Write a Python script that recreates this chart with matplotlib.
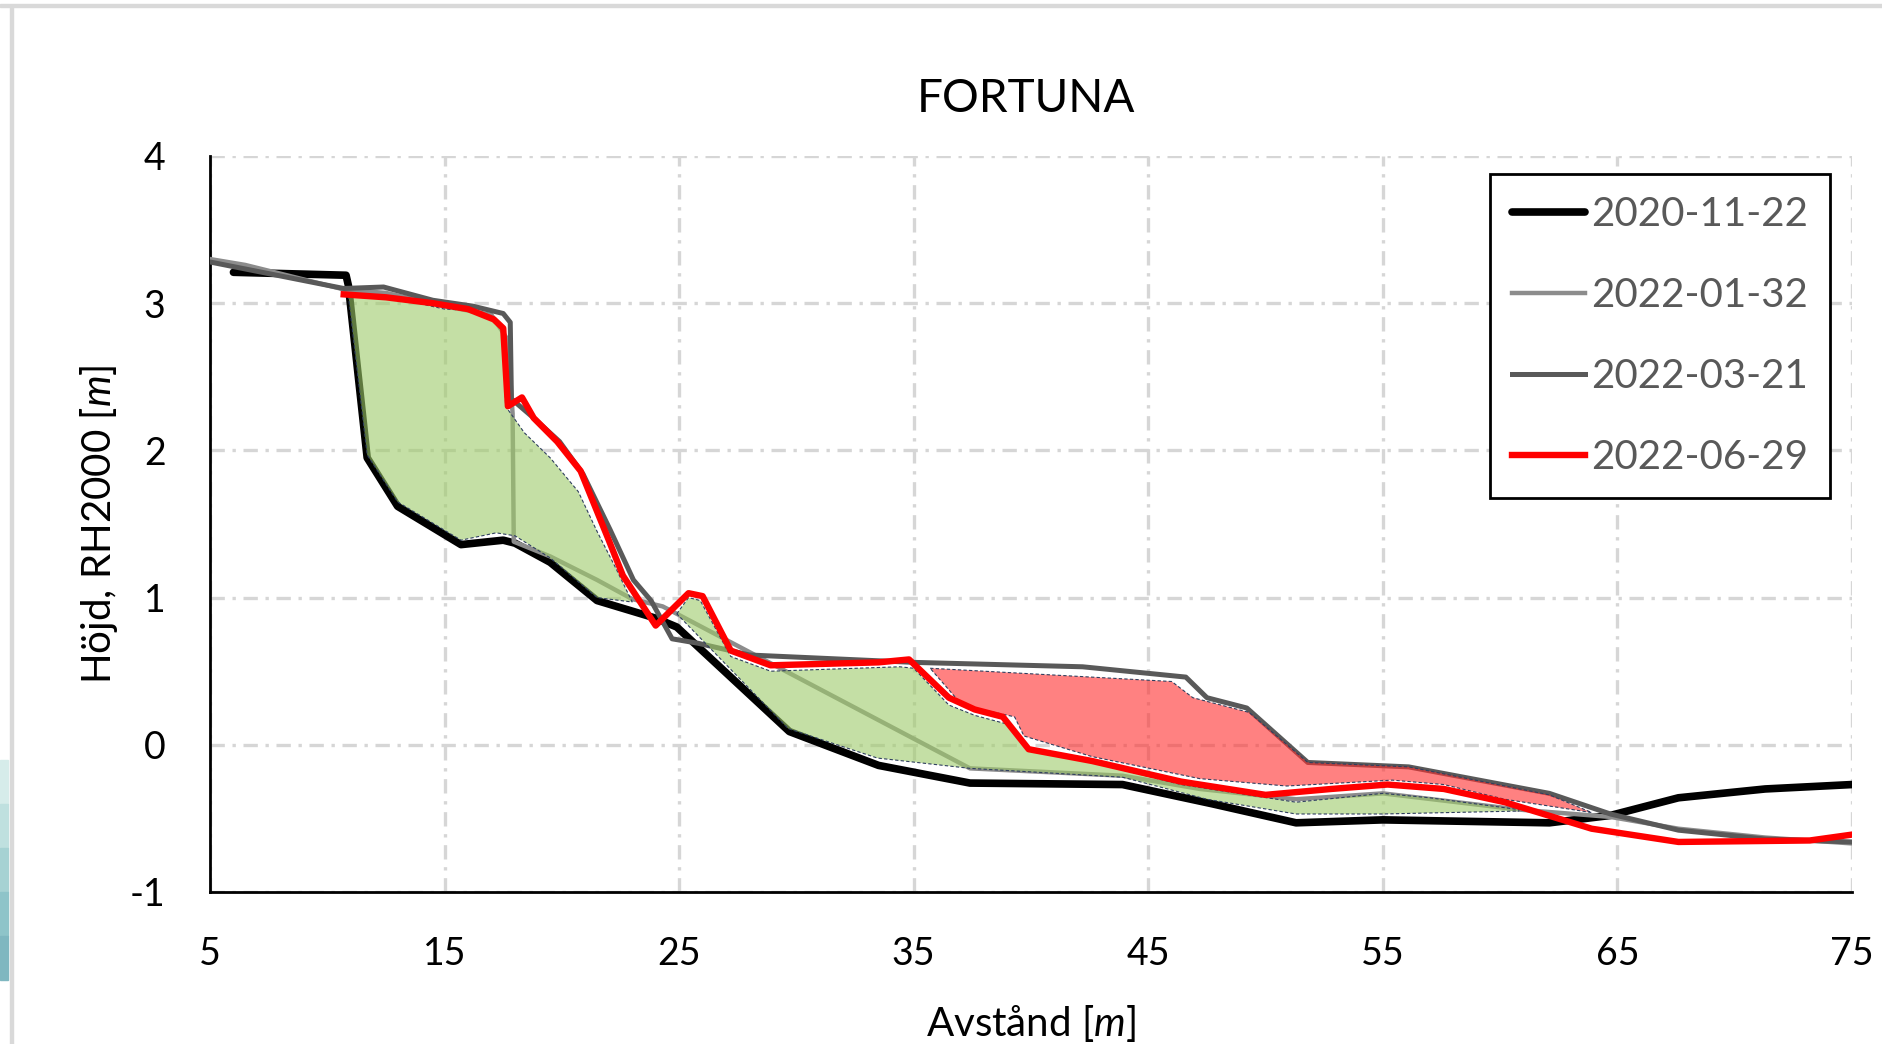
import matplotlib
matplotlib.use("Agg")
import matplotlib.pyplot as plt
from matplotlib.patches import Rectangle

plt.rcParams["font.family"] = ["Lato", "DejaVu Sans"]
plt.rcParams["mathtext.fontset"] = "custom"
plt.rcParams["mathtext.rm"] = "Lato"
plt.rcParams["mathtext.it"] = "Lato:italic"
plt.rcParams["axes.unicode_minus"] = False
plt.rcParams["lines.solid_joinstyle"] = "round"

# profiler (avstånd, höjd)
x_2011 = [6.0, 10.8, 10.9, 11.7, 13.0, 15.7, 17.5, 18.0, 19.5, 21.5, 24.0, 24.9, 29.7,
          33.5, 37.4, 43.9, 47.7, 51.3, 55.0, 62.1, 64.7, 67.6, 71.3, 75.0]
y_2011 = [3.21, 3.19, 3.12, 1.95, 1.62, 1.36, 1.39, 1.37, 1.24, 0.98, 0.86, 0.80, 0.09,
          -0.14, -0.26, -0.27, -0.40, -0.53, -0.51, -0.53, -0.48, -0.36, -0.30, -0.27]

x_2201 = [5.0, 6.5, 10.8, 12.5, 15.0, 17.0, 17.7, 17.9, 17.95, 19.5, 21.5, 23.0, 24.3,
          24.9, 37.4, 43.9, 47.2, 51.3, 55.0, 60.8, 64.7, 67.6, 71.3, 75.0]
y_2201 = [3.30, 3.26, 3.09, 3.07, 2.98, 2.92, 2.75, 2.25, 1.38, 1.28, 1.12, 0.99, 0.94,
          0.89, -0.16, -0.21, -0.30, -0.37, -0.33, -0.44, -0.49, -0.57, -0.63, -0.67]

x_2203 = [5.0, 10.7, 12.4, 14.5, 16.2, 17.5, 17.8, 17.85, 18.8, 19.9, 20.9, 22.06, 23.05,
          23.8, 24.7, 25.8, 28.0, 35.0, 42.2, 46.6, 47.5, 49.2, 51.8, 56.1, 62.1, 64.7,
          67.6, 71.3, 75.0]
y_2203 = [3.28, 3.10, 3.11, 3.02, 2.98, 2.93, 2.87, 2.35, 2.22, 2.06, 1.84, 1.46, 1.12,
          0.98, 0.72, 0.69, 0.61, 0.56, 0.53, 0.46, 0.32, 0.25, -0.12, -0.15, -0.33, -0.47,
          -0.58, -0.64, -0.66]

x_2206 = [10.7, 12.5, 14.5, 16.0, 17.1, 17.5, 17.7, 18.3, 18.8, 19.8, 20.8, 22.0, 22.6,
          24.0, 25.4, 26.0, 27.2, 28.9, 33.5, 34.8, 36.5, 37.6, 38.8, 39.9, 42.6, 46.4,
          50.0, 52.8, 55.2, 57.6, 60.2, 63.9, 67.6, 73.2, 75.0]
y_2206 = [3.06, 3.04, 3.00, 2.96, 2.89, 2.83, 2.30, 2.36, 2.22, 2.06, 1.86, 1.39, 1.15,
          0.81, 1.03, 1.01, 0.64, 0.54, 0.56, 0.58, 0.32, 0.24, 0.19, -0.03, -0.11, -0.25,
          -0.34, -0.30, -0.27, -0.30, -0.39, -0.57, -0.66, -0.65, -0.61]

# ytor (polygoner)
green1_x = [10.9, 13.0, 15.0, 16.3, 17.3, 17.5, 17.6, 18.4, 19.5, 20.7, 21.5, 22.3, 23.0,
            21.5, 19.5, 18.0, 17.2, 15.7, 13.0, 11.7]
green1_y = [3.05, 3.03, 2.96, 2.95, 2.87, 2.83, 2.30, 2.12, 1.95, 1.72, 1.45, 1.20, 0.97,
            1.00, 1.27, 1.42, 1.44, 1.39, 1.65, 1.97]

green2_x = [24.9, 25.4, 25.9, 27.2, 28.9, 34.4, 35.0, 36.5, 37.6, 39.0, 39.8, 42.6, 46.4,
            51.3, 55.0, 57.0, 60.8, 60.8, 55.0, 51.3, 47.5, 43.9, 37.4, 33.45, 29.65]
green2_y = [0.89, 1.00, 0.98, 0.60, 0.50, 0.53, 0.52, 0.27, 0.20, 0.14, -0.01, -0.12, -0.27,
            -0.39, -0.33, -0.36, -0.44, -0.45, -0.47, -0.47, -0.37, -0.22, -0.16, -0.09, 0.11]

red_x = [35.7, 46.0, 46.9, 49.3, 51.8, 56.1, 62.1, 63.9, 60.2, 57.6, 55.4, 50.9, 47.2,
         42.6, 39.7, 39.3, 37.6, 36.9]
red_y = [0.52, 0.43, 0.32, 0.22, -0.12, -0.15, -0.34, -0.46, -0.37, -0.27, -0.24, -0.28,
         -0.23, -0.08, 0.06, 0.19, 0.25, 0.30]

labels = ["2020-11-22", "2022-01-32", "2022-03-21", "2022-06-29"]

fig = plt.figure(figsize=(18.82, 10.44), dpi=100)
ax = fig.add_axes([210 / 1882, 1 - 892 / 1044, 1642 / 1882, 736 / 1044])

# linjer
l1, = ax.plot(x_2011, y_2011, color="black", lw=5.5, solid_capstyle="round", zorder=3)
l2, = ax.plot(x_2201, y_2201, color="#8c8c8c", lw=3.2, zorder=3)
l3, = ax.plot(x_2203, y_2203, color="#595959", lw=3.6, zorder=3)

# ytor
ax.fill(green1_x, green1_y, facecolor="#9ECB69", alpha=0.6, edgecolor="none", zorder=4)
ax.fill(green2_x, green2_y, facecolor="#9ECB69", alpha=0.6, edgecolor="none", zorder=4)
ax.fill(red_x, red_y, facecolor="#FF2E2E", alpha=0.6, edgecolor="none", zorder=4)
for px, py in [(green1_x, green1_y), (green2_x, green2_y), (red_x, red_y)]:
    ax.fill(px, py, facecolor="none", edgecolor="#2F3F5F", lw=0.8,
            linestyle=(0, (3, 2)), zorder=5)

l4, = ax.plot(x_2206, y_2206, color="#ff0000", lw=4.6, zorder=6)

ax.set_xlim(5, 75)
ax.set_ylim(-1, 4)
ax.set_xticks(range(5, 76, 10))
ax.set_yticks(range(-1, 5))
ax.tick_params(length=0, labelsize=27, pad=32)
ax.grid(True, color="#d6d6d6", lw=2.4, linestyle=(0, (4.3, 2.3, 1, 2.3)), zorder=0)
for s in ["top", "right"]:
    ax.spines[s].set_visible(False)
for s in ["left", "bottom"]:
    ax.spines[s].set_linewidth(2)

ax.set_ylabel("Höjd, RH2000 [$\\mathit{m}$]", fontsize=29, labelpad=7)
ax.set_xlabel("Avstånd [$\\mathit{m}$]", fontsize=29, labelpad=22)

fig.text(1026 / 1882, 1 - 99 / 1044, "FORTUNA", fontsize=33, ha="center", va="center")

leg = ax.legend([l1, l2, l3, l4], labels, loc="upper right",
                bbox_to_anchor=(1830 / 1882, 1 - 174 / 1044),
                bbox_transform=fig.transFigure, borderaxespad=0,
                fontsize=29, handlelength=1.8, handletextpad=0.15,
                labelspacing=1.09, borderpad=0.55, fancybox=False, framealpha=1)
leg.get_frame().set_edgecolor("black")
leg.get_frame().set_linewidth(2)
for t in leg.get_texts():
    t.set_color("#595959")

# ram från skärmbilden
fig.patches.append(Rectangle((0, 1 - 7 / 1044), 1, 3 / 1044, transform=fig.transFigure,
                             color="#d9d9d9", zorder=0))
fig.patches.append(Rectangle((10 / 1882, 0), 3 / 1882, 1 - 5 / 1044, transform=fig.transFigure,
                             color="#d9d9d9", zorder=0))
teal = ["#d6ecea", "#bfe0df", "#a6d2d3", "#8ec4c9", "#7fb7c0"]
for i, c in enumerate(teal):
    fig.patches.append(Rectangle((0, 1 - (760 + 44 * (i + 1)) / 1044), 8 / 1882, 44 / 1044,
                                 transform=fig.transFigure, color=c, zorder=0))

fig.savefig("out.png", dpi=100)
